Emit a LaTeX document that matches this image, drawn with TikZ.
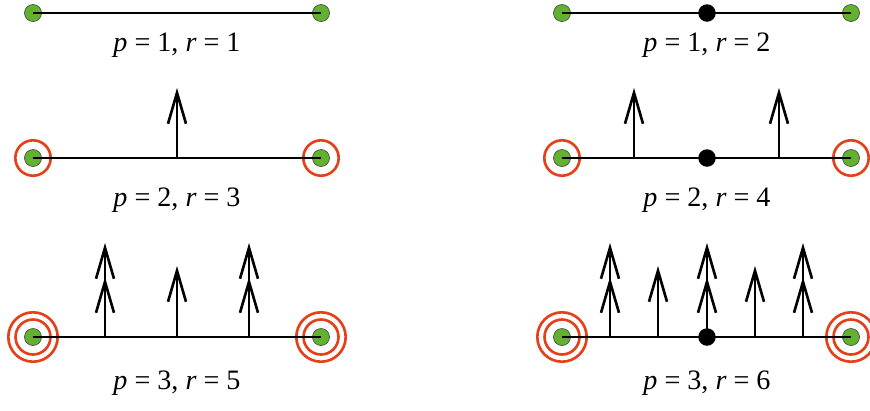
\documentclass[tikz,border=0pt]{standalone}
\usepackage{fontspec}
\setmainfont{Liberation Serif}
\usetikzlibrary{arrows.meta}
\definecolor{sitegreen}{RGB}{98,178,48}
\definecolor{ringred}{RGB}{230,64,26}
\tikzset{
  site/.style={circle, fill=sitegreen, draw=black!70, line width=0.4pt, inner sep=0pt, minimum size=0.34cm},
  knot/.style={circle, fill=black, inner sep=0pt, minimum size=0.35cm},
  ring/.style={draw=ringred, line width=1.5pt},
  bar/.style={line width=1.5pt},
  up/.style={line width=1.5pt, -{Straight Barb[length=0.62cm,width=0.36cm]}},
  upup/.style={line width=1.5pt, -{Straight Barb[length=0.62cm,width=0.36cm,sep=-0.06cm] Straight Barb[length=0.62cm,width=0.36cm]}},
  lbl/.style={font=\fontsize{16}{18}\selectfont}
}
\begin{document}
\begin{tikzpicture}[x=0.02cm, y=-0.02cm]
  \useasboundingbox (0,0) rectangle (870,410);
  % end sites
  \draw
    (33,13) node[site] (l1a){}
    (321,13) node[site] (l1b){}
    (33,158) node[site] (l2a){}
    (321,158) node[site] (l2b){}
    (33,337) node[site] (l3a){}
    (321,337) node[site] (l3b){}
    (562,13) node[site] (r1a){}
    (851,13) node[site] (r1b){}
    (562,158) node[site] (r2a){}
    (851,158) node[site] (r2b){}
    (562,337) node[site] (r3a){}
    (851,337) node[site] (r3b){};
  % rings
  \begin{scope}[ring]
    \draw (l2a) circle[radius=0.354cm];
    \draw (l2b) circle[radius=0.354cm];
    \draw (r2a) circle[radius=0.354cm];
    \draw (r2b) circle[radius=0.354cm];
    \foreach \s in {l3a,l3b,r3a,r3b} {
      \draw (\s) circle[radius=0.35cm];
      \draw (\s) circle[radius=0.494cm];
    }
  \end{scope}
  % arrow bases and tips
  \coordinate (l2m) at (177,158);
  \coordinate (l2t) at (177,88);
  \coordinate (l3p) at (105,337);
  \coordinate (l3q) at (177,337);
  \coordinate (l3r) at (249,337);
  \coordinate (l3pt) at (105,243);
  \coordinate (l3qt) at (177,266);
  \coordinate (l3rt) at (249,243);
  \coordinate (r2p) at (634,158);
  \coordinate (r2q) at (779,158);
  \coordinate (r2pt) at (634,88);
  \coordinate (r2qt) at (779,88);
  \coordinate (r3p) at (610,337);
  \coordinate (r3q) at (658,337);
  \coordinate (r3r) at (755,337);
  \coordinate (r3s) at (803,337);
  \coordinate (r3pt) at (610,243);
  \coordinate (r3qt) at (658,266);
  \coordinate (r3mt) at (707,243);
  \coordinate (r3rt) at (755,266);
  \coordinate (r3st) at (803,243);
  % bars
  \begin{scope}[bar]
    \draw (l1a.center) to (l1b.center);
    \draw (l2a.center) to (l2b.center);
    \draw (l3a.center) to (l3b.center);
    \draw (r1a.center) to (r1b.center);
    \draw (r2a.center) to (r2b.center);
    \draw (r3a.center) to (r3b.center);
  \end{scope}
  % middle knots
  \draw
    (707,13) node[knot] (r1m){}
    (707,158) node[knot] (r2m){}
    (707,337) node[knot] (r3m){};
  % arrows
  \draw[up] (l2m) to (l2t);
  \draw[upup] (l3p) to (l3pt);
  \draw[up] (l3q) to (l3qt);
  \draw[upup] (l3r) to (l3rt);
  \draw[up] (r2p) to (r2pt);
  \draw[up] (r2q) to (r2qt);
  \draw[upup] (r3p) to (r3pt);
  \draw[up] (r3q) to (r3qt);
  \draw[upup] (r3m.center) to (r3mt);
  \draw[up] (r3r) to (r3rt);
  \draw[upup] (r3s) to (r3st);
  % labels
  \node[lbl] (l1) at (177,45) {\textit{p} = 1, \textit{r} = 1};
  \node[lbl] (l2) at (177,200) {\textit{p} = 2, \textit{r} = 3};
  \node[lbl] (l3) at (177,383) {\textit{p} = 3, \textit{r} = 5};
  \node[lbl] (r1) at (707,45) {\textit{p} = 1, \textit{r} = 2};
  \node[lbl] (r2) at (707,200) {\textit{p} = 2, \textit{r} = 4};
  \node[lbl] (r3) at (707,383) {\textit{p} = 3, \textit{r} = 6};
\end{tikzpicture}
\end{document}
